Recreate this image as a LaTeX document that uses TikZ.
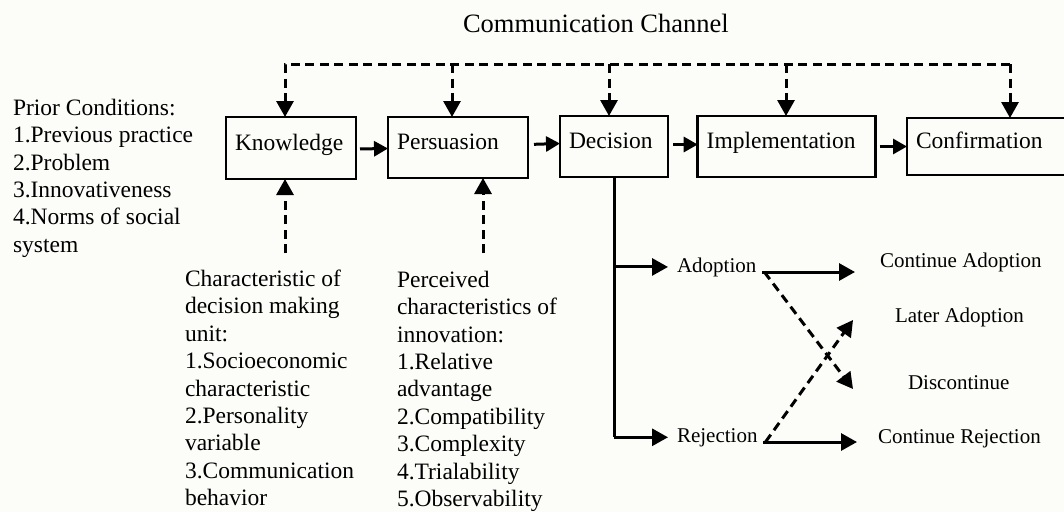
\documentclass[tikz,border=0pt]{standalone}
\usepackage{fontspec}
\setmainfont{Liberation Serif}
\usetikzlibrary{arrows.meta}
\definecolor{paper}{RGB}{252,252,248}
\begin{document}
\begin{tikzpicture}[x=1pt,y=-1pt,
  every node/.style={inner sep=0pt, outer sep=0pt},
  bigtext/.style={font=\fontsize{23.5}{27.4}\selectfont},
  smalltext/.style={font=\fontsize{21}{25}\selectfont},
  stage/.style={draw, line width=2.6pt, anchor=north west, align=left,
    inner xsep=9pt, inner ysep=0pt, text height=15pt, text depth=11pt, bigtext},
  tip/.style={-{Triangle[length=16pt,width=17pt]}},
  steptip/.style={-{Triangle[length=14pt,width=15pt]}},
  flow/.style={line width=3pt, tip},
  stepflow/.style={line width=3pt, steptip},
  chan/.style={line width=3pt, dash pattern=on 9pt off 5.5pt},
  col/.style={bigtext, align=left, anchor=north west},
]
\useasboundingbox (0,0) rectangle (1064,512);
\clip (0,0) rectangle (1064,512);
\fill[paper] (0,0) rectangle (1064,512);

% stages of the decision process
\node[stage, text width=112pt, minimum height=62pt] (know) at (226,117) {Knowledge};
\node[stage, text width=122pt, minimum height=61pt] (pers) at (388,117) {Persuasion};
\node[stage, text width=90pt, minimum height=61pt] (dec) at (560,116) {Decision};
\node[stage, text width=160pt, minimum height=61pt] (impl) at (697.7,116) {Implementation};
\node[stage, text width=150pt, minimum height=57pt] (conf) at (907,118) {Confirmation};

\draw[stepflow, shorten <=4pt] ([yshift=-1pt]know.east) -- ([yshift=-1pt]pers.west);
\draw[stepflow, shorten <=6pt] ([yshift=3pt]pers.east) -- ([yshift=3pt]dec.west);
\draw[stepflow, shorten <=5pt] ([yshift=2pt]dec.east) -- ([yshift=2pt]impl.west);
\draw[stepflow, shorten <=4pt] (impl.east) -- (conf.west);

% communication channel
\node[font=\fontsize{26.5}{30}\selectfont, anchor=base west] (title) at (463,32) {Communication Channel};
\coordinate (ch1) at (285,64);
\coordinate (ch2) at (452,64);
\coordinate (ch3) at (609,64);
\coordinate (ch4) at (786,64);
\coordinate (ch5) at (1010,64);
\draw[chan, tip] (ch5) -- (ch1) -- (ch1 |- know.north);
\draw[chan, tip] (ch2) -- (ch2 |- pers.north);
\draw[chan, tip] (ch3) -- (ch3 |- dec.north);
\draw[chan, tip] (ch4) -- (ch4 |- impl.north);
\draw[chan, tip] (ch5) -- (ch5 |- conf.north);

% prior conditions
\node[col] (prior) at (13,99) {Prior Conditions:\\1.Previous practice\\2.Problem\\3.Innovativeness\\4.Norms of social\\system};

% characteristics feeding knowledge and persuasion
\node[col] (unit) at (185,270) {Characteristic of\\decision making\\unit:\\1.Socioeconomic\\characteristic\\2.Personality\\variable\\3.Communication\\behavior};
\node[col] (innov) at (397,271) {Perceived\\characteristics of\\innovation:\\1.Relative\\advantage\\2.Compatibility\\3.Complexity\\4.Trialability\\5.Observability};
\coordinate (kb) at (285,253);
\coordinate (pb) at (483,253);
\draw[chan, tip] (kb) -- (kb |- know.south);
\draw[chan, tip] (pb) -- (pb |- pers.south);

% outcomes of the decision
\node[smalltext, anchor=base west] (adopt) at (677,272) {Adoption};
\node[smalltext, anchor=base west] (reject) at (677,442) {Rejection};
\node[smalltext, anchor=base west] (contad) at (880,267) {Continue Adoption};
\node[smalltext, anchor=base west] (later) at (895,322) {Later Adoption};
\node[smalltext, anchor=base west] (disc) at (908,389) {Discontinue};
\node[smalltext, anchor=base west] (contrej) at (878,443) {Continue Rejection};

\draw[line width=3pt] (dec.south) -- (dec.south |- reject.west);
\draw[flow, shorten >=9pt] (dec.south |- adopt.west) -- (adopt.west);
\draw[flow, shorten >=9pt] (dec.south |- reject.west) -- (reject.west);

\draw[flow] ([xshift=6pt]adopt.base east) -- ([xshift=-25pt]contad.west |- adopt.base east);
\draw[flow] ([xshift=6pt]reject.base east) -- ([xshift=-21pt]contrej.west |- reject.base east);
\draw[chan, tip] ([xshift=8pt]adopt.base east) -- ([xshift=-55pt]disc.base west);
\draw[chan, tip] ([xshift=8pt]reject.base east) -- ([xshift=-42pt,yshift=2pt]later.base west);
\end{tikzpicture}
\end{document}
